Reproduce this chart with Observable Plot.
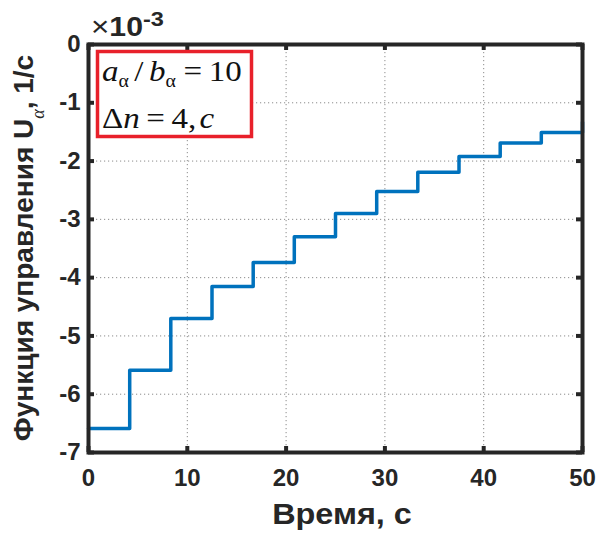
<!DOCTYPE html>
<html>
<head>
<meta charset="utf-8">
<script src="https://cdn.jsdelivr.net/npm/d3@7"></script>
<script src="https://cdn.jsdelivr.net/npm/@observablehq/plot@0.6"></script>
<style>
  html, body { margin: 0; padding: 0; background: #fff; }
  #chart svg { display: block; }
</style>
</head>
<body>
<div id="chart"></div>
<script>
// Step times (s) and control function values (×10^-3, 1/s)
const time = [0, 4.17, 8.33, 12.5, 16.67, 20.83, 25, 29.17, 33.33, 37.5, 41.67, 45.83, 50];
const uAlpha = [-6.59, -5.59, -4.70, -4.15, -3.74, -3.30, -2.90, -2.52, -2.19, -1.92, -1.69, -1.51, -1.33];
const xTicks = [0, 10, 20, 30, 40, 50];
const yTicks = [0, -1, -2, -3, -4, -5, -6, -7];
const xLabel = "Время, с";
const yLabelMain = "Функция управления U";
const yLabelSub = "α";
const yLabelTail = ", 1/с";
const exponentBase = "10";
const exponentPow = "-3";
const legendLine1 = {a: "a", sub: "α", b: "b", value: "10"};
const legendLine2 = {delta: "Δ", n: "n", value: "4", unit: "c"};

const data = time.map((t, i) => ({t, u: uAlpha[i]}));

const W = 599, H = 535;
const mL = 88, mR = 17, mT = 44, mB = 83;
const innerH = H - mT - mB;
const innerW = W - mL - mR;
const sans = "'Liberation Sans', Arial, sans-serif";
const serif = "'Liberation Serif', 'Times New Roman', serif";
const dark = "#262626";

const chart = Plot.plot({
  width: W,
  height: H,
  marginLeft: mL, marginRight: mR, marginTop: mT, marginBottom: mB,
  style: {fontFamily: sans, background: "#fff"},
  x: {domain: [0, 50], ticks: xTicks},
  y: {domain: [-7, 0], ticks: yTicks},
  marks: [
    Plot.gridX(xTicks.slice(1, -1), {stroke: "#8c8c8c", strokeOpacity: 1, strokeDasharray: "1.2,2.8", strokeWidth: 1}),
    Plot.gridY(yTicks.slice(1, -1), {stroke: "#8c8c8c", strokeOpacity: 1, strokeDasharray: "1.2,2.8", strokeWidth: 1}),
    Plot.line(data, {x: "t", y: "u", curve: "step-after", stroke: "#0072BD", strokeWidth: 3.5}),
    // inward ticks
    Plot.ruleX(xTicks, {x: d => d, insetTop: innerH - 6, stroke: dark, strokeWidth: 4}),
    Plot.ruleX(xTicks, {x: d => d, insetBottom: innerH - 6, stroke: dark, strokeWidth: 4}),
    Plot.ruleY(yTicks, {y: d => d, insetRight: innerW - 6, stroke: dark, strokeWidth: 4}),
    Plot.ruleY(yTicks, {y: d => d, insetLeft: innerW - 6, stroke: dark, strokeWidth: 4}),
    Plot.frame({stroke: dark, strokeWidth: 4}),
    Plot.axisX(xTicks, {tickSize: 0, tickPadding: 16, fontSize: 24, fontWeight: "bold", fill: dark, label: null}),
    Plot.axisY(yTicks, {tickSize: 0, tickPadding: 8, fontSize: 24, fontWeight: "bold", fill: dark, label: null,
      tickFormat: d => String(d)})
  ]
});
document.getElementById("chart").appendChild(chart);

const svg = d3.select(chart);

// x label
svg.append("text")
  .attr("transform", "translate(342,524) scale(1.08,1)")
  .attr("text-anchor", "middle")
  .style("font-family", sans).style("font-weight", "bold").style("font-size", "30px")
  .attr("fill", dark)
  .text(xLabel);

// y label (rotated) with subscript alpha
const yl = svg.append("text")
  .attr("transform", "translate(33,248) rotate(-90)")
  .attr("text-anchor", "middle")
  .style("font-family", sans).style("font-weight", "bold").style("font-size", "28px")
  .attr("fill", dark);
yl.append("tspan").text(yLabelMain);
yl.append("tspan").attr("dy", 11).style("font-size", "18px").style("font-weight", "normal")
  .style("font-style", "italic").style("font-family", serif).text(yLabelSub);
yl.append("tspan").attr("dy", -11).text(yLabelTail);

// exponent ×10^-3
const ex = svg.append("text")
  .attr("transform", "translate(91,36) scale(1.12,1)")
  .attr("text-anchor", "start")
  .style("font-family", sans).style("font-size", "27px").attr("fill", dark);
ex.append("tspan").style("font-weight", "normal").style("font-size", "28px").text("×");
ex.append("tspan").style("font-weight", "bold").text(exponentBase);
ex.append("tspan").style("font-weight", "bold").style("font-size", "21px").attr("dy", -10).text(exponentPow);

// legend box
svg.append("rect")
  .attr("x", 97.5).attr("y", 51.5).attr("width", 154).attr("height", 85)
  .attr("fill", "#fff").attr("stroke", "#E8202A").attr("stroke-width", 3.5);

const l1 = svg.append("text")
  .attr("transform", "translate(102,81) scale(1.1,1)")
  .attr("text-anchor", "start")
  .style("font-family", serif).style("font-size", "30px").attr("fill", "#111");
l1.append("tspan").style("font-style", "italic").text(legendLine1.a);
l1.append("tspan").style("font-size", "18px").attr("dy", 6).text(legendLine1.sub);
l1.append("tspan").attr("dy", -6).attr("dx", 5).text("/");
l1.append("tspan").attr("dx", 5).style("font-style", "italic").text(legendLine1.b);
l1.append("tspan").style("font-size", "18px").attr("dy", 6).text(legendLine1.sub);
l1.append("tspan").attr("dy", -6).attr("dx", 7).text("=");
l1.append("tspan").attr("dx", 6).text(legendLine1.value);

const l2 = svg.append("text")
  .attr("transform", "translate(102,128) scale(1.1,1)")
  .attr("text-anchor", "start")
  .style("font-family", serif).style("font-size", "30px").attr("fill", "#111");
l2.append("tspan").text(legendLine2.delta);
l2.append("tspan").style("font-style", "italic").text(legendLine2.n);
l2.append("tspan").attr("dx", 6).text("=");
l2.append("tspan").attr("dx", 6).text(legendLine2.value + ",");
l2.append("tspan").attr("dx", 3).style("font-style", "italic").text(legendLine2.unit);
</script>
</body>
</html>
